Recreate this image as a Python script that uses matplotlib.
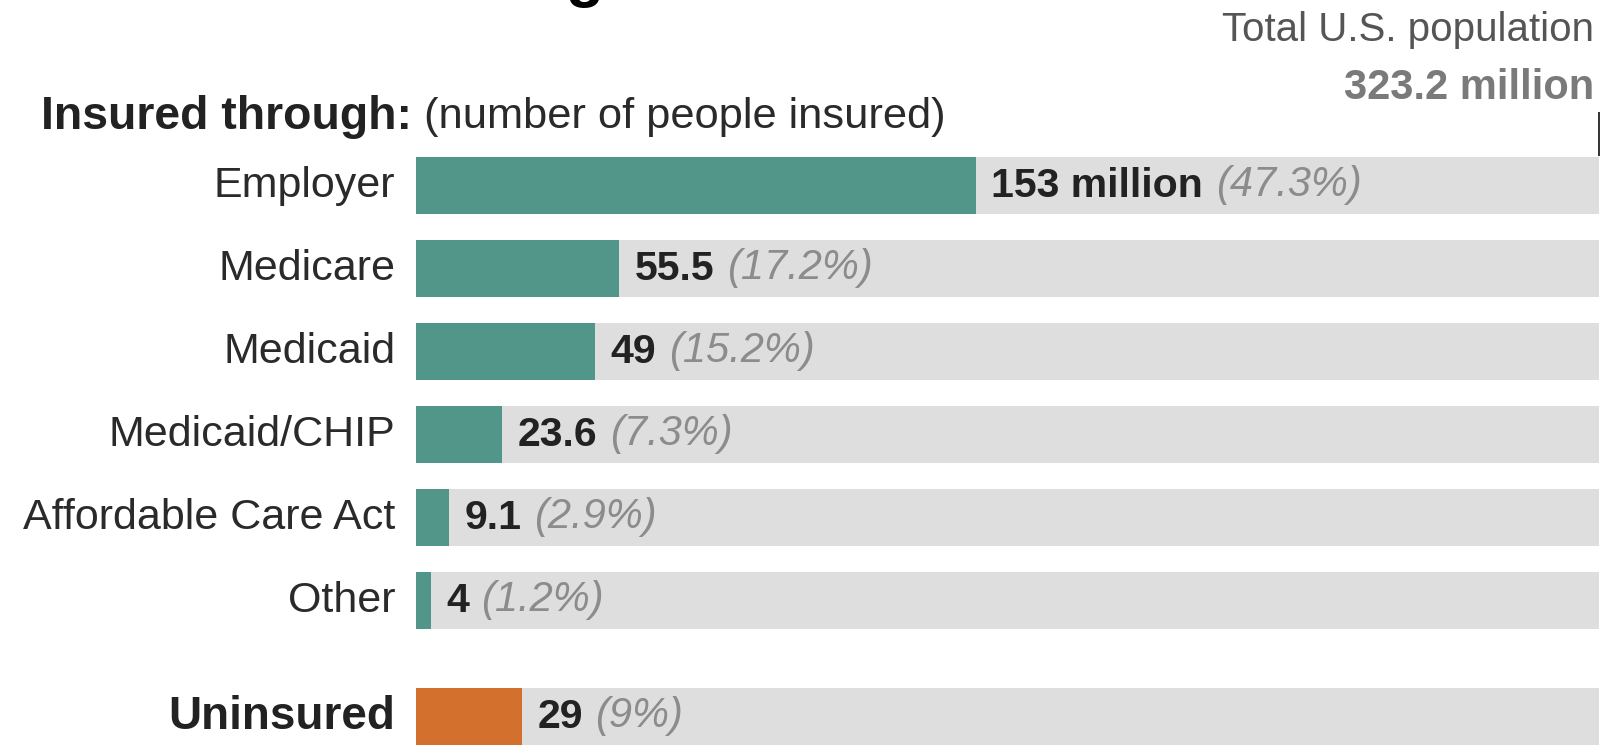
import matplotlib
matplotlib.use("Agg")
import matplotlib.pyplot as plt

plt.rcParams["font.family"] = ["Liberation Sans", "DejaVu Sans"]

# Health insurance coverage, millions of people
categories = ["Employer", "Medicare", "Medicaid", "Medicaid/CHIP",
              "Affordable Care Act", "Other", "Uninsured"]
values = [153, 55.5, 49, 23.6, 9.1, 4, 29]
value_labels = ["153 million", "55.5", "49", "23.6", "9.1", "4", "29"]
shares = ["(47.3%)", "(17.2%)", "(15.2%)", "(7.3%)", "(2.9%)", "(1.2%)", "(9%)"]
total_population = 323.2
positions = [0, 1, 2, 3, 4, 5, 6.40]

TEAL = "#519689"
ORANGE = "#D4702E"
TRACK = "#DEDEDE"
INK = "#222222"
PCT = "#8C8C8C"

W, H = 1615, 747
fig = plt.figure(figsize=(W / 100, H / 100), dpi=100)
fig.patch.set_facecolor("white")
ax = fig.add_axes([416 / W, 0, 1183 / W, 603 / H])
ax.set_xlim(0, total_population)
ax.set_ylim(6.765, -0.5)
ax.axis("off")

bar_h = 0.69
# background tracks spanning the total population
ax.barh(positions, [total_population] * len(values), height=bar_h,
        color=TRACK, linewidth=0)
colors = [TEAL] * 6 + [ORANGE]
ax.barh(positions, values, height=bar_h, color=colors, linewidth=0)

for v, y, lab, pct in zip(values, positions, value_labels, shares):
    t = ax.annotate(lab, xy=(v, y), xytext=(11, 0), textcoords="offset points",
                    ha="left", va="center", fontsize=29.5, fontweight="bold",
                    color=INK)
    ax.annotate(pct, xy=(1, 0), xycoords=t, xytext=(9, 0),
                textcoords="offset points", ha="left", va="bottom",
                fontsize=30, fontstyle="italic", color=PCT)

# category names to the left of the bars
for y, name in zip(positions, categories):
    bold = name == "Uninsured"
    ax.annotate(name, xy=(0, y), xytext=(-15, 0), textcoords="offset points",
                ha="right", va="center", fontsize=33 if bold else 31,
                fontweight="bold" if bold else "normal",
                color=INK if bold else "#2a2a2a")

# marker for the total population
ax.plot([total_population, total_population], [-0.886, -0.36],
        color="#333333", lw=1.4, clip_on=False, solid_capstyle="butt")

fig.text(1594 / W, 1 - 30 / H, "Total U.S. population", ha="right",
         va="center", fontsize=29, color="#555555")
fig.text(1594 / W, 1 - 88 / H, "323.2 million", ha="right", va="center",
         fontsize=30, fontweight="bold", color="#7A7A7A")

t1 = fig.text(41 / W, 1 - 117 / H, "Insured through:", ha="left",
              va="center", fontsize=33.4, fontweight="bold", color=INK)
fig.canvas.draw()
bb = t1.get_window_extent()
fig.text(bb.x1 / W, 1 - 117 / H, " (number of people insured)", ha="left",
         va="center", fontsize=31.2, color="#2a2a2a")

# headline, running off the top edge
fig.text(10 / W, 1 + 5 / H, "Health care coverage in the U.S.", ha="left",
         va="baseline", fontsize=45, fontweight="bold", color="black")

fig.savefig("out.png", dpi=100, facecolor="white")
